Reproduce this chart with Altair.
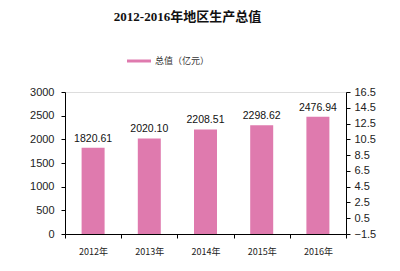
import altair as alt
import pandas as pd

years = ["2012年", "2013年", "2014年", "2015年", "2016年"]
values = [1820.61, 2020.10, 2208.51, 2298.62, 2476.94]
labels = ["1820.61", "2020.10", "2208.51", "2298.62", "2476.94"]
series_name = "总值（亿元）"
right_ticks = [-1.5, 0.5, 2.5, 4.5, 6.5, 8.5, 10.5, 12.5, 14.5, 16.5]
left_ticks = [0, 500, 1000, 1500, 2000, 2500, 3000]

df = pd.DataFrame({"year": years, "value": values, "label": labels,
                   "series": [series_name] * len(years)})
df_right = pd.DataFrame({"r": [right_ticks[0], right_ticks[-1]], "year": [years[0], years[-1]]})

pink = "#df7aae"
xscale = alt.Scale(paddingInner=0, paddingOuter=0)
yscale = alt.Scale(domain=[0, 3000], nice=False)
xenc = alt.X("year:N", sort=years, title=None, scale=xscale,
             axis=alt.Axis(labelAngle=0, labelFontSize=9, labelColor="#222",
                           tickBand="extent", tickSize=4, tickColor="#000",
                           domainColor="#000", labelPadding=9,
                           labelFont="Noto Sans CJK SC"))
yenc = alt.Y("value:Q", title=None, scale=yscale,
             axis=alt.Axis(values=left_ticks, grid=False, tickSize=4, format="d",
                           labelOverlap=False,
                           tickColor="#000", domainColor="#000",
                           labelFontSize=11, labelColor="#222", labelPadding=7,
                           labelFont="Arial, Liberation Sans"))

bars = alt.Chart(df).mark_bar(size=23, color=pink).encode(
    x=xenc,
    y=yenc,
    color=alt.Color("series:N", scale=alt.Scale(range=[pink]),
                    legend=alt.Legend(title=None, orient="none", legendX=62, legendY=-43,
                                      symbolType="M-1,-0.125L1,-0.125L1,0.125L-1,0.125Z",
                                      symbolSize=576, symbolStrokeWidth=0,
                                      labelFontSize=9, labelColor="#333",
                                      labelFont="Noto Sans CJK SC")),
)

text = alt.Chart(df).mark_text(dy=-9, fontSize=10.5, color="#111",
                               font="Arial, Liberation Sans").encode(
    x=xenc,
    y=yenc,
    text="label:N",
)

right = alt.Chart(df_right).mark_point(opacity=0).encode(
    x=xenc,
    y=alt.Y("r:Q", title=None,
            scale=alt.Scale(domain=[-1.5, 16.5], nice=False, zero=False),
            axis=alt.Axis(orient="right", values=right_ticks, grid=False,
                          labelOverlap=False,
                          tickSize=4, tickColor="#000", domainColor="#000",
                          labelFontSize=11, labelColor="#222", labelPadding=4,
                          labelFont="Arial, Liberation Sans", format=".1f")),
)

left_layer = alt.layer(bars, text)
chart = alt.layer(left_layer, right).resolve_scale(y="independent").properties(
    width=281, height=142,
    autosize=alt.AutoSizeParams(type="none"),
    padding={"left": 65, "top": 92, "right": 54, "bottom": 37},
    title=alt.TitleParams("2012-2016年地区生产总值", fontSize=13, fontWeight="bold",
                          font="Liberation Serif, Noto Sans CJK SC", color="#111",
                          anchor="middle", offset=25, dx=-18),
).configure_view(stroke=None).configure(background="white")

chart.save("out.html", embed_options={"renderer": "svg", "actions": False})
